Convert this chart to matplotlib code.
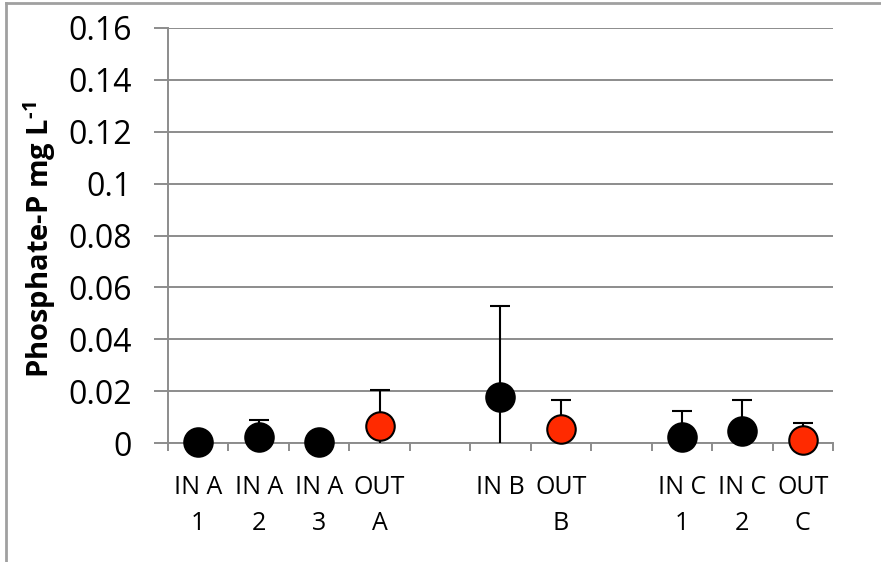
import numpy as np
import matplotlib
matplotlib.use('Agg')
import matplotlib.pyplot as plt
from matplotlib.lines import Line2D

plt.rcParams['font.family'] = ['Open Sans', 'DejaVu Sans']
plt.rcParams['mathtext.fontset'] = 'custom'
plt.rcParams['mathtext.rm'] = 'Open Sans:bold'
plt.rcParams['mathtext.bf'] = 'Open Sans:bold'

# category slots (blank slots separate the A, B and C groups)
categories = ['IN A\n1', 'IN A\n2', 'IN A\n3', 'OUT\nA', '', 'IN B', 'OUT\nB', '', 'IN C\n1', 'IN C\n2', 'OUT\nC']
values = [0.0003, 0.0025, 0.0003, 0.0064, None, 0.0177, 0.0054, None, 0.0025, 0.0045, 0.0013]
errors = [0.0, 0.0065, 0.0, 0.0141, None, 0.035, 0.0113, None, 0.0097, 0.0122, 0.0064]
is_out = [False, False, False, True, False, False, True, False, False, False, True]
yticks = [0, 0.02, 0.04, 0.06, 0.08, 0.1, 0.12, 0.14, 0.16]
ytick_labels = ['0', '0.02', '0.04', '0.06', '0.08', '0.1', '0.12', '0.14', '0.16']

GRID = '#8c8c8c'
RED = '#ff2a00'

fig = plt.figure(figsize=(8.81, 5.62), dpi=100)
ax = fig.add_axes([0.1907, 0.2117, 0.7548, 0.7385])

x = np.arange(len(categories))
for i in range(len(categories)):
    if values[i] is None:
        continue
    color = RED if is_out[i] else 'black'
    if errors[i] > 0:
        ax.errorbar(x[i], values[i], yerr=errors[i], fmt='none', ecolor='black',
                    elinewidth=1.5, capsize=7, capthick=1.5, zorder=3)
    ax.plot(x[i], values[i], 'o', ms=20.5, mfc=color, mec='black', mew=1.5, zorder=4, clip_on=False)

ax.set_xlim(-0.5, len(categories) - 0.5)
ax.set_ylim(0, 0.16)
ax.set_yticks(yticks)
ax.set_yticklabels(ytick_labels, fontsize=23)
ax.yaxis.grid(True, color=GRID, lw=1.4)
ax.set_axisbelow(True)

ax.set_xticks(x)
ax.set_xticklabels(categories, fontsize=18, linespacing=1.6)
ax.set_xticks(np.arange(len(categories) + 1) - 0.5, minor=True)
ax.tick_params(axis='x', which='major', length=0, pad=23)
ax.tick_params(axis='x', which='minor', length=6, width=1.4, color=GRID, direction='out')
ax.tick_params(axis='y', length=10, width=1.4, color=GRID, pad=16)

for s in ['top', 'right']:
    ax.spines[s].set_visible(False)
for s in ['left', 'bottom']:
    ax.spines[s].set_color(GRID)
    ax.spines[s].set_linewidth(1.4)

fig.text(0.045, 0.573, 'Phosphate-P mg L$^{\\text{-1}}$', rotation=90, fontsize=21,
         fontweight='bold', ha='center', va='center')

# outer chart frame (top and left edges visible)
fig.add_artist(Line2D([0.007, 0.007], [0, 0.995], color='#a0a0a0', lw=2))
fig.add_artist(Line2D([0.007, 1], [0.995, 0.995], color='#a0a0a0', lw=2))

fig.savefig('out.png', dpi=100)
